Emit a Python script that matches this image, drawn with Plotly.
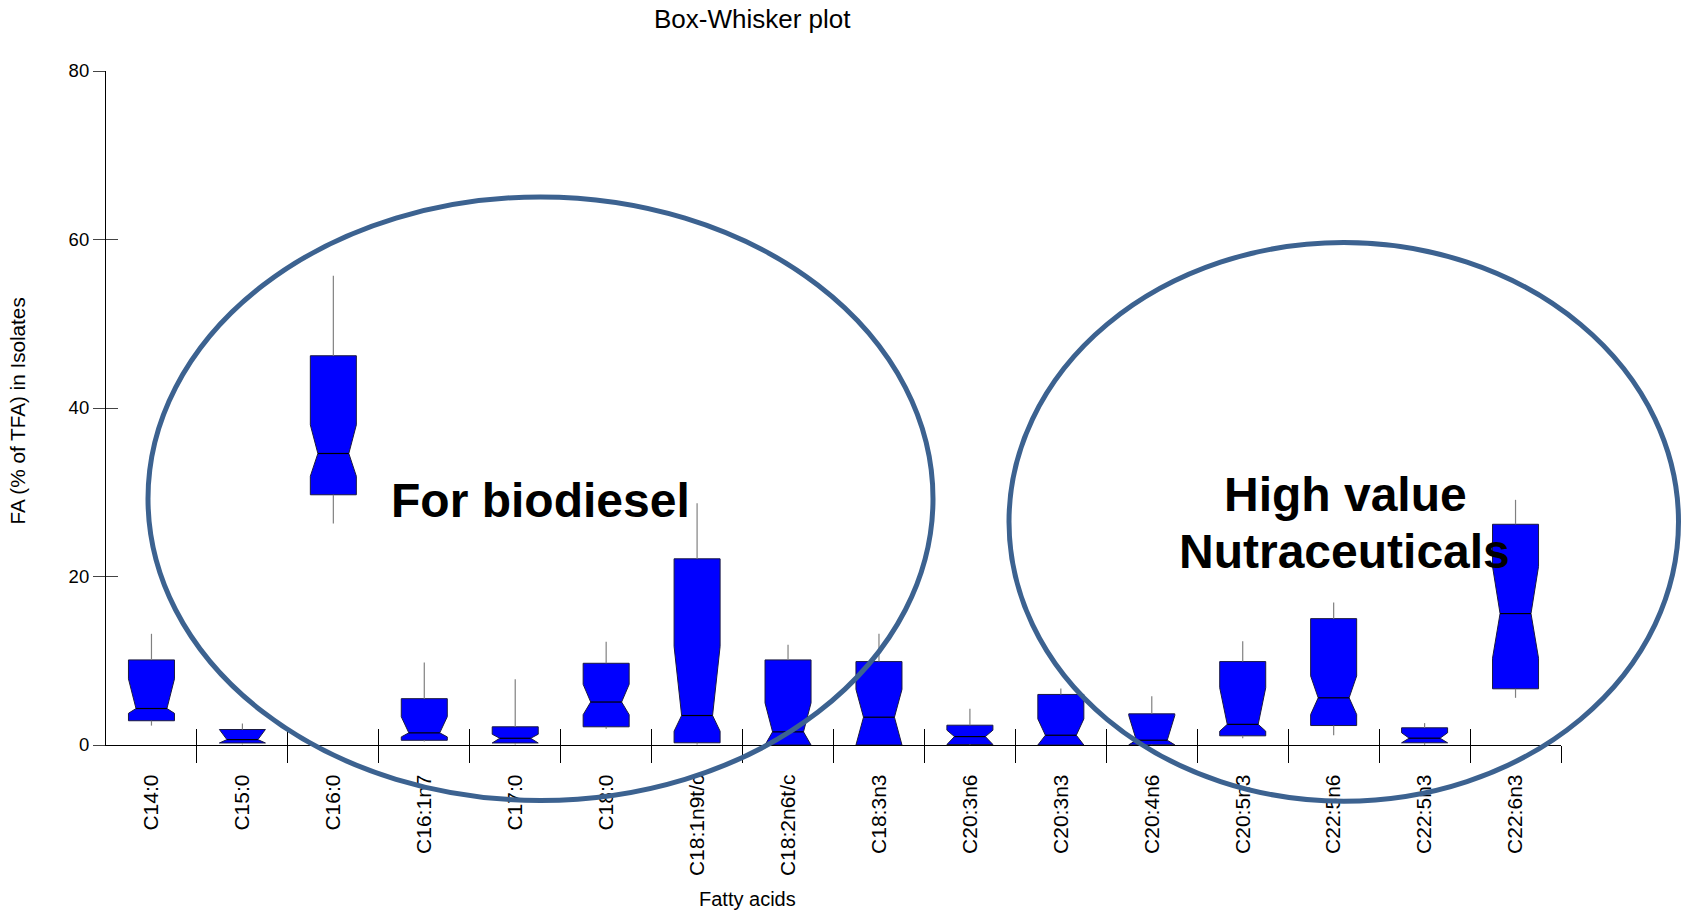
import plotly.graph_objects as go

# ---- data ----
categories = ["C14:0", "C15:0", "C16:0", "C16:1n7", "C17:0", "C18:0", "C18:1n9t/c",
              "C18:2n6t/c", "C18:3n3", "C20:3n6", "C20:3n3", "C20:4n6", "C20:5n3",
              "C22:5n6", "C22:5n3", "C22:6n3"]
whisker_hi = [13.2, 2.55, 55.7, 9.8, 7.8, 12.25, 28.7, 11.9, 13.2, 4.3, 6.7, 5.8, 12.3, 16.9, 2.6, 29.1]
q3 = [10.1, 1.84, 46.2, 5.5, 2.16, 9.7, 22.1, 10.1, 9.9, 2.35, 6.0, 3.7, 9.9, 15.0, 2.04, 26.2]
notch_hi = [7.85, 1.84, 38.0, 3.36, 1.28, 7.2, 11.7, 5.0, 6.6, 1.76, 3.1, 3.5, 6.8, 8.2, 1.45, 21.2]
median = [4.33, 0.64, 34.6, 1.44, 0.8, 5.1, 3.5, 1.56, 3.3, 1.0, 1.16, 0.57, 2.45, 5.6, 0.81, 15.6]
notch_lo = [3.76, 0.24, 31.9, 0.96, 0.24, 3.6, 1.64, 0.0, 0.0, 0.06, 0.0, 0.02, 1.64, 3.62, 0.26, 10.3]
q1 = [2.88, 0.24, 29.7, 0.56, 0.24, 2.16, 0.26, 0.0, 0.0, 0.06, 0.0, 0.02, 1.09, 2.31, 0.26, 6.67]
whisker_lo = [2.3, 0.07, 26.3, 0.41, 0.07, 1.92, 0.06, 0.0, 0.0, 0.0, 0.0, 0.0, 0.8, 1.16, 0.02, 5.6]
y_ticks = [0, 20, 40, 60, 80]

# ---- styling ----
FONT = "Liberation Sans, Arial, sans-serif"
BOX_HALF = 0.253      # half box width in category units
NOTCH_HALF = 0.17     # half width at the median
n = len(categories)
pos = list(range(n))
bounds = [i + 0.5 for i in range(n)]
xr = [-0.5, n - 0.5]

# box polygons (notched), built from the arrays
bx, by = [], []
for i in pos:
    l, r = i - BOX_HALF, i + BOX_HALF
    ml, mr = i - NOTCH_HALF, i + NOTCH_HALF
    bx += [l, l, ml, l, l, r, r, mr, r, r, l, None]
    by += [q1[i], notch_lo[i], median[i], notch_hi[i], q3[i],
           q3[i], notch_hi[i], median[i], notch_lo[i], q1[i], q1[i], None]

wx, wy = [], []
for i in pos:
    wx += [i, i, None, i, i, None]
    wy += [q3[i], whisker_hi[i], None, q1[i], whisker_lo[i], None]

mx, my = [], []
for i in pos:
    mx += [i - NOTCH_HALF, i + NOTCH_HALF, None]
    my += [median[i], median[i], None]

fig = go.Figure()
fig.add_trace(go.Scatter(x=wx, y=wy, mode="lines", xaxis="x2", yaxis="y",
                         line=dict(color="#808080", width=1.2), hoverinfo="skip",
                         showlegend=False))
fig.add_trace(go.Scatter(x=bx, y=by, mode="lines", fill="toself", fillcolor="#0000FF",
                         line=dict(color="#1a1a40", width=1), showlegend=False,
                         hoverinfo="skip"))
fig.add_trace(go.Scatter(x=mx, y=my, mode="lines", xaxis="x3", yaxis="y2",
                         line=dict(color="#000000", width=1.2), showlegend=False,
                         hoverinfo="skip"))

W, H = 1681, 915
L, R, T, B = 106, 120, 71, 169.5
pw, ph = W - L - R, H - T - B


def px(x):
    return (x - L) / pw


def py(y):
    return (H - B - y) / ph


ell_col = "#3C6290"
fig.add_shape(type="circle", xref="paper", yref="paper",
              x0=px(148), x1=px(933), y0=py(801), y1=py(197),
              line=dict(color=ell_col, width=5), layer="above")
fig.add_shape(type="circle", xref="paper", yref="paper",
              x0=px(1009), x1=px(1678.5), y0=py(801.7), y1=py(242.7),
              line=dict(color=ell_col, width=5), layer="above")

ann = []
ann.append(dict(text="Box-Whisker plot", x=px(752.8), y=py(19.3), xref="paper", yref="paper",
                showarrow=False, xanchor="center", yanchor="middle",
                font=dict(family=FONT, size=26, color="#000")))
ann.append(dict(text="Fatty acids", x=px(747), y=py(899.5), xref="paper", yref="paper",
                showarrow=False, xanchor="center", yanchor="middle",
                font=dict(family=FONT, size=20, color="#000")))
ann.append(dict(text="FA (% of TFA) in Isolates", x=px(17.5), y=py(411.3), xref="paper",
                yref="paper", showarrow=False, xanchor="center", yanchor="middle",
                textangle=-90, font=dict(family=FONT, size=20.7, color="#000")))
ann.append(dict(text="<b>For biodiesel</b>", x=px(540.5), y=py(500.6), xref="paper",
                yref="paper", showarrow=False, xanchor="center", yanchor="middle",
                font=dict(family=FONT, size=48, color="#000")))
ann.append(dict(text="<b>High value</b>", x=px(1345), y=py(494.4), xref="paper",
                yref="paper", showarrow=False, xanchor="center", yanchor="middle",
                font=dict(family=FONT, size=48, color="#000")))
ann.append(dict(text="<b>Nutraceuticals</b>", x=px(1344), y=py(551.7), xref="paper",
                yref="paper", showarrow=False, xanchor="center", yanchor="middle",
                font=dict(family=FONT, size=48, color="#000")))

fig.update_layout(
    width=W, height=H,
    margin=dict(l=L, r=R, t=T, b=B, pad=0),
    paper_bgcolor="white", plot_bgcolor="white",
    showlegend=False,
    font=dict(family=FONT, color="#000"),
    annotations=ann,
    xaxis=dict(range=xr, tickmode="array", tickvals=pos, ticktext=categories,
               tickangle=-90, ticks="outside", ticklen=20, tickcolor="rgba(0,0,0,0)",
               tickfont=dict(family=FONT, size=21, color="#000"),
               showline=True, linecolor="#000", linewidth=1.2,
               showgrid=False, zeroline=False, fixedrange=True),
    xaxis2=dict(range=xr, overlaying="x", anchor="y", tickmode="array", tickvals=bounds,
                ticks="outside", ticklen=17, tickcolor="#000", tickwidth=1,
                showticklabels=False, showline=False, showgrid=False, zeroline=False),
    xaxis3=dict(range=xr, overlaying="x", anchor="y", tickmode="array", tickvals=bounds,
                ticks="inside", ticklen=16, tickcolor="#000", tickwidth=1,
                showticklabels=False, showline=False, showgrid=False, zeroline=False),
    yaxis=dict(range=[0, 80], tickmode="array", tickvals=y_ticks,
               ticks="outside", ticklen=12, tickcolor="#444", tickwidth=1.3,
               tickfont=dict(family=FONT, size=18.5, color="#000"),
               showline=True, linecolor="#000", linewidth=1.2,
               showgrid=False, zeroline=False),
    yaxis2=dict(range=[0, 80], overlaying="y", anchor="x", tickmode="array",
                tickvals=y_ticks, ticks="inside", ticklen=12, tickcolor="#444",
                tickwidth=1.3, showticklabels=False, showline=False, showgrid=False,
                zeroline=False),
)

fig.write_html("out.html")
